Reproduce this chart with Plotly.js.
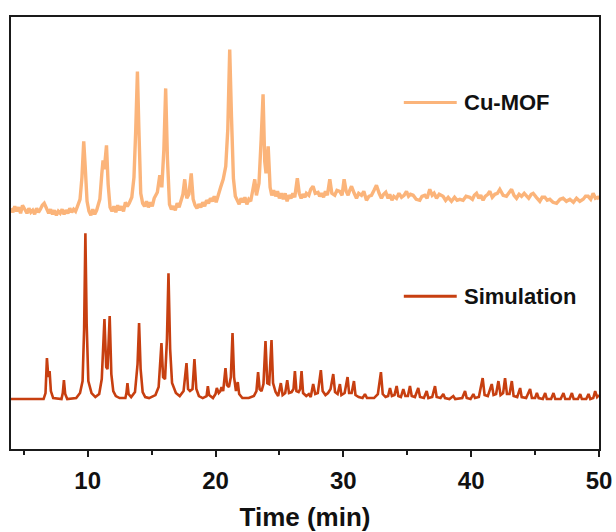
<!DOCTYPE html>
<html>
<head>
<meta charset="utf-8">
<script src="https://cdn.plot.ly/plotly-3.0.1.min.js"></script>
<style>html,body{margin:0;padding:0;background:#fff;}#chart{width:616px;height:532px;}</style>
</head>
<body>
<div id="chart"></div>
<script>
var cuMofPoints = [
 [4.0,241],[4.15,237],[4.3,243],[4.45,238],[4.6,242],[4.75,236],[4.9,244],[5.1,240],[5.25,236],[5.4,241],
 [5.55,237],[5.7,239],[5.85,235],[6.0,241],[6.15,237],[6.3,240],[6.45,244],[6.6,246],[6.8,239],[6.95,236],
 [7.1,240],[7.25,235],[7.4,239],[7.55,234],[7.7,238],[7.85,236],[8.0,240],[8.15,235],[8.3,239],[8.45,236],
 [8.6,241],[8.75,237],[8.9,240],[9.05,238],[9.2,243],[9.4,250],[9.55,272],[9.69,308],[9.8,284],[9.95,248],
 [10.1,238],[10.25,234],[10.4,240],[10.55,235],[10.7,239],[10.95,250],[11.1,275],[11.2,289],[11.3,280],[11.47,304],
 [11.6,265],[11.75,242],[11.9,238],[12.05,243],[12.2,237],[12.35,244],[12.5,239],[12.65,243],[12.8,238],[12.95,247],
 [13.1,243],[13.25,246],[13.45,252],[13.62,272],[13.76,320],[13.89,378],[14.0,322],[14.15,256],[14.3,246],[14.45,243],
 [14.6,248],[14.75,242],[14.9,247],[15.05,243],[15.2,251],[15.45,257],[15.64,274],[15.8,262],[15.96,300],[16.1,361],
 [16.24,290],[16.4,245],[16.55,240],[16.7,243],[16.85,239],[17.0,246],[17.15,242],[17.3,249],[17.45,255],[17.59,270],
 [17.75,251],[17.92,255],[18.1,276],[18.25,250],[18.4,244],[18.55,241],[18.7,245],[18.85,242],[19.0,247],[19.15,243],
 [19.3,249],[19.45,246],[19.6,251],[19.75,248],[19.9,253],[20.05,247],[20.2,255],[20.4,262],[20.6,270],[20.8,283],
 [20.96,320],[21.11,400],[21.25,332],[21.4,271],[21.55,253],[21.7,248],[21.85,245],[22.0,251],[22.15,247],[22.3,252],
 [22.45,245],[22.6,250],[22.75,248],[22.9,258],[23.07,270],[23.2,254],[23.4,266],[23.57,310],[23.72,355],[23.85,288],
 [23.95,276],[24.12,303],[24.27,262],[24.4,254],[24.55,259],[24.7,253],[24.85,258],[25.0,251],[25.15,256],[25.3,250],
 [25.45,256],[25.6,248],[25.75,254],[25.9,251],[26.05,256],[26.2,252],[26.4,271],[26.55,256],[26.7,251],[26.85,255],
 [27.0,252],[27.11,256],[27.3,254],[27.45,260],[27.63,263],[27.8,256],[28.02,257],[28.15,253],[28.29,256],[28.45,252],
 [28.6,258],[28.75,254],[28.94,270],[29.1,256],[29.33,254],[29.5,259],[29.72,258],[29.9,254],[30.06,270],[30.22,258],
 [30.37,254],[30.5,259],[30.64,263],[30.85,256],[31.03,251],[31.2,256],[31.42,254],[31.6,258],[31.81,249],[32.0,253],
 [32.2,254],[32.4,259],[32.59,264],[32.8,256],[32.98,251],[33.15,255],[33.32,257],[33.5,251],[33.63,255],[33.8,249],
 [33.95,253],[34.16,251],[34.35,256],[34.55,252],[34.75,254],[34.94,258],[35.1,253],[35.25,255],[35.46,254],[35.7,250],
 [35.98,249],[36.15,253],[36.37,254],[36.55,251],[36.76,260],[36.95,254],[37.1,256],[37.29,251],[37.5,255],[37.8,253],
 [38.0,249],[38.2,252],[38.46,248],[38.7,252],[38.9,249],[39.11,250],[39.37,249],[39.6,253],[39.89,252],[40.1,250],
 [40.25,254],[40.42,256],[40.6,251],[40.75,254],[40.93,249],[41.1,253],[41.3,255],[41.46,258],[41.65,252],[41.85,255],
 [42.05,256],[42.24,260],[42.5,254],[42.76,253],[42.95,256],[43.16,260],[43.35,254],[43.55,251],[43.75,255],[43.94,253],
 [44.15,256],[44.33,254],[44.5,251],[44.7,255],[44.85,256],[45.1,252],[45.37,248],[45.55,252],[45.76,252],[45.95,249],
 [46.15,250],[46.4,247],[46.68,246],[46.95,250],[47.19,251],[47.45,248],[47.72,250],[48.0,247],[48.24,251],[48.5,248],
 [48.76,250],[48.95,253],[49.15,253],[49.35,250],[49.54,256],[49.72,251],[49.9,252],[50.0,250]
];

// Simulated pattern: [time, intensity] pairs (offset included)
var simulationPoints = [
 [4.0,50],[6.55,50],[6.7,56],[6.81,91],[6.92,72],[7.02,78],[7.12,58],[7.3,51],[7.95,50],[8.05,56],
 [8.14,69],[8.24,55],[8.4,50],[9.1,51],[9.4,56],[9.6,68],[9.72,120],[9.82,216],[9.92,125],[10.05,68],
 [10.3,56],[10.6,52],[10.9,55],[11.1,70],[11.31,130],[11.45,82],[11.55,80],[11.72,133],[11.85,75],[12.0,58],
 [12.2,53],[12.5,51],[12.95,51],[13.03,56],[13.11,66],[13.2,55],[13.4,52],[13.7,57],[13.9,85],[14.02,126],
 [14.14,80],[14.3,57],[14.5,52],[14.8,51],[15.3,54],[15.55,62],[15.77,106],[15.9,72],[16.05,70],[16.2,110],
 [16.32,176],[16.45,100],[16.6,66],[16.9,56],[17.2,53],[17.5,58],[17.73,86],[17.85,60],[18.0,58],[18.2,60],
 [18.35,90],[18.5,60],[18.7,53],[19.0,51],[19.3,53],[19.4,63],[19.5,54],[19.8,51],[20.0,55],[20.1,61],
 [20.25,56],[20.38,58],[20.47,62],[20.6,58],[20.78,81],[20.9,64],[21.05,62],[21.2,72],[21.33,116],[21.45,72],
 [21.6,58],[21.74,67],[21.85,55],[22.1,51],[22.6,51],[23.0,53],[23.2,58],[23.33,77],[23.45,60],[23.6,58],
 [23.75,65],[23.91,108],[24.05,66],[24.2,65],[24.38,109],[24.5,66],[24.7,57],[24.9,53],[25.11,66],[25.25,54],
 [25.45,56],[25.61,69],[25.75,56],[25.95,57],[26.1,60],[26.21,78],[26.33,58],[26.5,57],[26.62,60],[26.73,78],
 [26.85,56],[27.1,53],[27.3,55],[27.45,52],[27.64,65],[27.8,55],[28.0,56],[28.24,79],[28.38,58],[28.6,54],
 [28.8,56],[29.0,60],[29.21,75],[29.35,57],[29.55,55],[29.73,65],[29.85,54],[30.1,56],[30.33,72],[30.45,56],
 [30.65,56],[30.83,68],[30.95,54],[31.2,52],[31.5,51],[31.69,55],[31.85,51],[32.4,51],[32.7,55],[32.94,77],
 [33.08,55],[33.3,52],[33.5,53],[33.65,61],[33.8,53],[34.0,54],[34.17,63],[34.3,53],[34.5,52],[34.69,60],
 [34.85,53],[35.05,53],[35.21,63],[35.35,53],[35.6,52],[35.86,61],[36.0,52],[36.3,51],[36.52,58],[36.65,51],
 [36.95,52],[37.17,63],[37.3,52],[37.6,51],[37.82,55],[37.95,51],[38.3,50],[38.6,53],[38.75,50],[39.3,51],
 [39.52,58],[39.65,51],[39.95,50],[40.17,55],[40.3,51],[40.6,52],[40.9,71],[41.05,54],[41.3,53],[41.61,65],
 [41.75,54],[41.95,55],[42.13,68],[42.3,54],[42.5,56],[42.65,71],[42.8,55],[43.0,55],[43.18,68],[43.32,53],
 [43.6,52],[43.83,61],[43.95,52],[44.3,51],[44.61,60],[44.75,51],[45.0,51],[45.14,56],[45.28,51],[45.6,50],
 [45.79,56],[45.92,50],[46.25,50],[46.44,56],[46.58,50],[47.0,50],[47.22,56],[47.36,50],[47.7,50],[47.88,56],
 [48.02,50],[48.35,50],[48.53,55],[48.66,50],[49.0,50],[49.18,55],[49.32,50],[49.55,51],[49.7,58],[49.85,52],
 [50.0,54]
];

var seriesNames = ["Cu-MOF", "Simulation"];
var seriesColors = ["#FBB47A", "#C73F10"];
var tickVals = [10, 20, 30, 40, 50];
var tickText = ["10", "20", "30", "40", "50"];
var minorTickVals = [5, 15, 25, 35, 45];
var legendY = [347, 153];

var fontFam = "Liberation Sans, Arial, sans-serif";

function col(pts, k) { return pts.map(function (p) { return p[k]; }); }

var allPoints = [cuMofPoints, simulationPoints];
var widths = [3.4, 2.6];
var traces = [], shapes = [], annotations = [];
for (var i = 0; i < seriesNames.length; i++) {
  traces.push({x: col(allPoints[i], 0), y: col(allPoints[i], 1), type: "scatter", mode: "lines",
    name: seriesNames[i], line: {color: seriesColors[i], width: widths[i]}, showlegend: false});
  shapes.push({type: "line", xref: "x", yref: "y", x0: 34.73, x1: 38.87, y0: legendY[i], y1: legendY[i],
    line: {color: seriesColors[i], width: 3}});
  annotations.push({xref: "x", yref: "y", x: 39.3, y: legendY[i], xanchor: "left", yanchor: "middle",
    text: "<b>" + seriesNames[i] + "</b>", showarrow: false,
    font: {family: fontFam, size: 22, color: "#111"}});
}

var layout = {
  width: 616, height: 532,
  margin: {l: 11, r: 17, t: 17, b: 82.5, pad: 0},
  paper_bgcolor: "#fff", plot_bgcolor: "#fff",
  showlegend: false,
  font: {family: fontFam, color: "#111"},
  xaxis: {
    range: [4, 50], showgrid: false, zeroline: false,
    showline: true, mirror: true, linecolor: "#1a1a1a", linewidth: 2,
    ticks: "outside", ticklen: 6, tickwidth: 2, tickcolor: "#1a1a1a",
    tickvals: tickVals, ticktext: tickText, ticklabelstandoff: 3,
    tickfont: {family: fontFam, size: 24, color: "#111", weight: "bold"},
    minor: {tickvals: minorTickVals, ticks: "outside", ticklen: 4, tickwidth: 2, tickcolor: "#1a1a1a"},
    title: {text: "<b>Time (min)</b>", font: {family: fontFam, size: 26, color: "#111"}, standoff: 18}
  },
  yaxis: {
    range: [0, 432.5], showgrid: false, zeroline: false,
    showline: true, mirror: true, linecolor: "#1a1a1a", linewidth: 2,
    ticks: "", showticklabels: false
  },
  shapes: shapes,
  annotations: annotations
};

Plotly.newPlot("chart", traces, layout, {displayModeBar: false, staticPlot: true});
</script>
</body>
</html>
